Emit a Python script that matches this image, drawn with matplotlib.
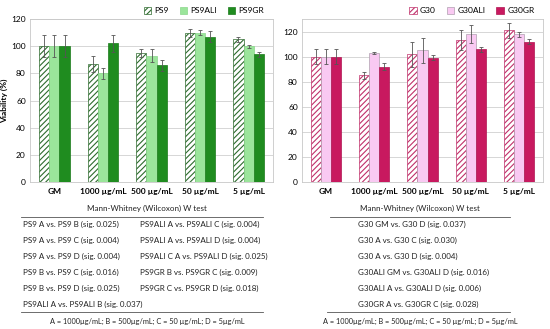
import matplotlib
matplotlib.use("Agg")
import matplotlib.pyplot as plt
import numpy as np

plt.rcParams['font.family'] = ['Lato', 'DejaVu Sans']
plt.rcParams['hatch.linewidth'] = 0.8

categories = ["GM", "1000 µg/mL", "500 µg/mL", "50 µg/mL", "5 µg/mL"]

p9_names = ["PS9", "PS9ALI", "PS9GR"]
p9 = [100, 87, 95, 110, 105]
p9_err = [8, 6, 3, 3, 2]
p9ali = [100, 80, 93, 110, 100]
p9ali_err = [8, 4, 5, 2, 1]
p9gr = [100, 102, 86, 107, 94]
p9gr_err = [8, 6, 4, 4, 2]

g30_names = ["G30", "G30ALI", "G30GR"]
g30 = [100, 85, 102, 113, 121]
g30_err = [6, 3, 10, 8, 6]
g30ali = [100, 103, 105, 118, 118]
g30ali_err = [6, 1, 10, 7, 2]
g30gr = [100, 92, 99, 106, 112]
g30gr_err = [6, 3, 2, 2, 2]

left_col1 = ["PS9 A vs. PS9 B (sig. 0.025)", "PS9 A vs. PS9 C (sig. 0.004)",
             "PS9 A vs. PS9 D (sig. 0.004)", "PS9 B vs. PS9 C (sig. 0.016)",
             "PS9 B vs. PS9 D (sig. 0.025)", "PS9ALI A vs. PS9ALI B (sig. 0.037)"]
left_col2 = ["PS9ALI A vs. PS9ALI C (sig. 0.004)", "PS9ALI A vs. PS9ALI D (sig. 0.004)",
             "PS9ALI C A vs. PS9ALI D (sig. 0.025)", "PS9GR B vs. PS9GR C (sig. 0.009)",
             "PS9GR C vs. PS9GR D (sig. 0.018)"]
right_col = ["G30 GM vs. G30 D (sig. 0.037)", "G30 A vs. G30 C (sig. 0.030)",
             "G30 A vs. G30 D (sig. 0.004)", "G30ALI GM vs. G30ALI D (sig. 0.016)",
             "G30ALI A vs. G30ALI D (sig. 0.006)", "G30GR A vs. G30GR C (sig. 0.028)"]
table_title = "Mann-Whitney (Wilcoxon) W test"
footnote = "A = 1000µg/mL; B = 500µg/mL; C = 50 µg/mL; D = 5µg/mL"

W, H = 550, 329
fig = plt.figure(figsize=(5.5, 3.29), dpi=100)

def px(x0, y0, x1, y1):
    return [x0 / W, 1 - y1 / H, (x1 - x0) / W, (y1 - y0) / H]

def draw(ax, series, errs, names, styles, ylim, yticks, ylabel):
    x = np.arange(len(categories))
    bw = 0.21
    handles = []
    for i, (vals, err, name, st) in enumerate(zip(series, errs, names, styles)):
        b = ax.bar(x + (i - 1) * bw, vals, bw, yerr=err, label=name,
                   color=st['fc'], edgecolor=st['ec'], hatch=st.get('hatch'),
                   linewidth=st.get('lw', 0.5), zorder=3,
                   error_kw=dict(elinewidth=0.6, ecolor='#555555', capsize=1.2, capthick=0.6))
        handles.append(b)
    ax.set_xlim(-0.5, len(categories) - 0.5)
    ax.set_ylim(*ylim)
    ax.set_yticks(yticks)
    ax.set_xticks(x)
    ax.set_xticklabels(categories, fontsize=6, fontweight='bold')
    ax.tick_params(axis='y', labelsize=6, length=0, pad=3)
    ax.tick_params(axis='x', length=0, pad=4)
    ax.grid(axis='y', color='#d0d0d0', linewidth=0.6, zorder=0)
    for s in ax.spines.values():
        s.set_color('#c8c8c8')
        s.set_linewidth(0.6)
    if ylabel:
        ax.set_ylabel(ylabel, fontsize=6, fontweight='bold', labelpad=2)
    ax.legend(handles=handles, loc='lower right', bbox_to_anchor=(0.985, 1.0), ncol=3,
              frameon=False, fontsize=6, handlelength=0.9, handleheight=0.9,
              columnspacing=1.3, handletextpad=0.4, borderaxespad=0.2)

ax1 = fig.add_axes(px(30, 19, 273, 182))
draw(ax1, [p9, p9ali, p9gr], [p9_err, p9ali_err, p9gr_err], p9_names,
     [dict(fc='white', ec='#2e6b2e', hatch='//////', lw=0.5),
      dict(fc='#9be59b', ec='#8ad68a', lw=0.5),
      dict(fc='#1f8c1f', ec='#1a7a1a', lw=0.5)],
     (0, 120), [0, 20, 40, 60, 80, 100, 120], 'Viability (%)')

ax2 = fig.add_axes(px(302, 19, 543, 182))
draw(ax2, [g30, g30ali, g30gr], [g30_err, g30ali_err, g30gr_err], g30_names,
     [dict(fc='white', ec='#c0306a', hatch='//////', lw=0.5),
      dict(fc='#f9c9f2', ec='#b0a0b0', lw=0.5),
      dict(fc='#c8195f', ec='#b01552', lw=0.5)],
     (0, 130), [0, 20, 40, 60, 80, 100, 120], None)

# Tables
fs = 5.8
def t(x, y, s, **kw):
    fig.text(x / W, 1 - y / H, s, fontsize=kw.pop('fs', fs), va='center', color='#222222', **kw)

def hline(x0, x1, y):
    fig.add_artist(plt.Line2D([x0 / W, x1 / W], [1 - y / H, 1 - y / H], color='#555555', linewidth=0.6))

rows_y = [224, 240, 256, 272, 288, 304]

t(147, 208, table_title, ha='center')
hline(21, 263, 217)
for y, s in zip(rows_y, left_col1):
    t(23, y, s, ha='left')
for y, s in zip(rows_y, left_col2):
    t(140, y, s, ha='left')
hline(21, 263, 312)
t(147, 321, footnote, ha='center', fs=5.3)

t(420, 208, table_title, ha='center')
hline(330, 510, 217)
for y, s in zip(rows_y, right_col):
    t(358, y, s, ha='left')
hline(327, 510, 312)
t(420, 321, footnote, ha='center', fs=5.3)

fig.savefig("out.png", dpi=100)
